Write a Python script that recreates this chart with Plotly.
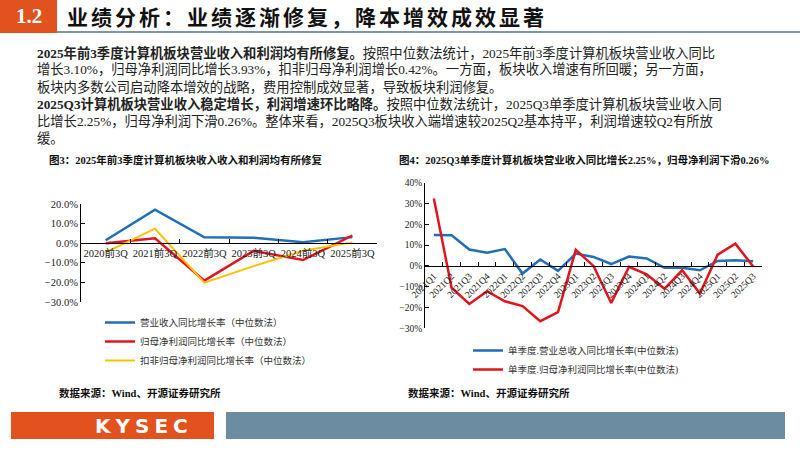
import plotly.graph_objects as go

# 图3：前3季度同比（中位数法，%）
years_3q = ["2020前3Q", "2021前3Q", "2022前3Q", "2023前3Q", "2024前3Q", "2025前3Q"]
rev_yoy = [1.5, 17.1, 3.0, 2.8, 0.5, 3.10]
np_yoy = [0.0, 2.5, -19.1, -3.9, -8.6, 3.93]
np_ded_yoy = [-4.7, 7.4, -20.1, -11.7, -3.9, 0.42]

# 图4：单季度同比（中位数法，%）
quarters = ["2021Q1", "2021Q2", "2021Q3", "2021Q4",
            "2022Q1", "2022Q2", "2022Q3", "2022Q4",
            "2023Q1", "2023Q2", "2023Q3", "2023Q4",
            "2024Q1", "2024Q2", "2024Q3", "2024Q4",
            "2025Q1", "2025Q2", "2025Q3"]
q_rev_yoy = [14.9, 14.7, 7.9, 6.3, 8.1, -3.7, 3.1, -2.4, 5.9, 4.3, 0.9, 4.5,
             3.6, -0.9, -0.9, -2.1, 2.4, 2.7, 2.25]
q_np_yoy = [32.4, -10.5, -18.3, -12.2, -17.0, -19.3, -26.6, -22.2, 7.7, 0.0, -17.8, -0.5,
            -4.0, -11.0, -2.1, -13.3, 5.4, 10.7, -0.26]

W, H = 800, 450
SERIF = "Liberation Serif, Noto Sans CJK SC"
BLUE = "#1f6fb8"
RED = "#e3141d"
GOLD = "#ffc000"
ORANGE = "#e2521f"
STEEL = "#6b8ca1"


def py(pix):
    # pixel row -> paper y
    return 1 - pix / H


def px(pix):
    return pix / W


fig = go.Figure()

# left chart
fig.add_trace(go.Scatter(x=years_3q, y=rev_yoy, mode="lines", line=dict(color=BLUE, width=2.5),
                         name="营业收入同比增长率（中位数法）", xaxis="x", yaxis="y", legend="legend"))
fig.add_trace(go.Scatter(x=years_3q, y=np_yoy, mode="lines", line=dict(color=RED, width=2.5),
                         name="归母净利润同比增长率（中位数法）", xaxis="x", yaxis="y", legend="legend"))
fig.add_trace(go.Scatter(x=years_3q, y=np_ded_yoy, mode="lines", line=dict(color=GOLD, width=2),
                         name="扣非归母净利润同比增长率（中位数法）", xaxis="x", yaxis="y", legend="legend"))

# right chart
fig.add_trace(go.Scatter(x=quarters, y=q_rev_yoy, mode="lines", line=dict(color=BLUE, width=2.5),
                         name="单季度.营业总收入同比增长率(中位数法)", xaxis="x2", yaxis="y2", legend="legend2"))
fig.add_trace(go.Scatter(x=quarters, y=q_np_yoy, mode="lines", line=dict(color=RED, width=2.5),
                         name="单季度.归母净利润同比增长率(中位数法)", xaxis="x2", yaxis="y2", legend="legend2"))

axis_common = dict(showgrid=False, zeroline=False, showline=True, linecolor="black", linewidth=1,
                   ticks="inside", ticklen=4, tickcolor="black", automargin=False)

left_y = (-30, 20)
right_y = (-30, 40)
left_dom = (py(302), py(204))
right_dom = (py(328.3), py(182.7))

fig.update_layout(
    width=W, height=H,
    margin=dict(l=0, r=0, t=0, b=0, autoexpand=False),
    paper_bgcolor="white", plot_bgcolor="white",
    font=dict(family=SERIF, color="#222"),
    xaxis=dict(axis_common, domain=[px(81), px(377)], anchor="free",
               position=left_dom[0] + (0 - left_y[0]) / (left_y[1] - left_y[0]) * (left_dom[1] - left_dom[0]),
               type="category", range=[-0.5, len(years_3q) - 0.5], tickson="boundaries",
               tickangle=0, tickfont=dict(size=10.5, family=SERIF, color="#222")),
    yaxis=dict(axis_common, domain=list(left_dom), anchor="x", range=list(left_y), dtick=10,
               tickformat=".1f", ticksuffix="%", tickfont=dict(size=10.5, family=SERIF, color="#222")),
    xaxis2=dict(axis_common, domain=[px(425), px(762)], anchor="free",
                position=right_dom[0] + (0 - right_y[0]) / (right_y[1] - right_y[0]) * (right_dom[1] - right_dom[0]),
                type="category", range=[-0.5, len(quarters) - 0.5], tickson="boundaries",
                tickangle=-45, tickfont=dict(size=9.5, family=SERIF, color="#222")),
    yaxis2=dict(axis_common, domain=list(right_dom), anchor="x2", range=list(right_y), dtick=10,
                tickformat="d", ticksuffix="%", tickfont=dict(size=9.5, family=SERIF, color="#222")),
    legend=dict(x=px(100), y=py(308), xanchor="left", yanchor="top", bgcolor="rgba(0,0,0,0)",
                font=dict(size=9.5, family=SERIF, color="#333"), tracegroupgap=0),
    legend2=dict(x=px(468), y=py(336), xanchor="left", yanchor="top", bgcolor="rgba(0,0,0,0)",
                 font=dict(size=9.5, family=SERIF, color="#333"), tracegroupgap=0),
    showlegend=True,
)

shapes = [
    dict(type="rect", xref="paper", yref="paper", x0=0, x1=px(57), y0=py(33), y1=1,
         fillcolor=ORANGE, line=dict(width=0)),
    dict(type="line", xref="paper", yref="paper", x0=px(57), x1=1, y0=py(32), y1=py(32),
         line=dict(color="#7d95a4", width=2)),
    dict(type="rect", xref="paper", yref="paper", x0=px(11), x1=px(214), y0=py(439), y1=py(412),
         fillcolor=ORANGE, line=dict(width=0)),
    dict(type="rect", xref="paper", yref="paper", x0=px(226), x1=px(785), y0=py(439), y1=py(412),
         fillcolor=STEEL, line=dict(width=0)),
]
fig.update_layout(shapes=shapes)

body = [
    "<b>2025年前3季度计算机板块营业收入和利润均有所修复。</b>按照中位数法统计，2025年前3季度计算机板块营业收入同比",
    "增长3.10%，归母净利润同比增长3.93%，扣非归母净利润增长0.42%。一方面，板块收入增速有所回暖；另一方面，",
    "板块内多数公司启动降本增效的战略，费用控制成效显著，导致板块利润修复。",
    "<b>2025Q3计算机板块营业收入稳定增长，利润增速环比略降。</b>按照中位数法统计，2025Q3单季度计算机板块营业收入同",
    "比增长2.25%，归母净利润下滑0.26%。整体来看，2025Q3板块收入端增速较2025Q2基本持平，利润增速较Q2有所放",
    "缓。",
]

ann = [
    dict(text="<b>1.2</b>", x=px(29), y=py(16), xanchor="center", yanchor="middle",
         font=dict(size=21, color="white", family=SERIF)),
    dict(text="<b><span style='letter-spacing:3px'>业绩分析：业绩逐渐修复，降本增效成效显著</span></b>",
         x=px(65), y=py(18), xanchor="left", yanchor="middle",
         font=dict(size=21, color="#111", family=SERIF)),
    dict(text="<b>图3：2025年前3季度计算机板块收入收入和利润均有所修复</b>", x=px(47), y=py(160),
         xanchor="left", yanchor="middle", font=dict(size=10.5, color="#111", family=SERIF)),
    dict(text="<b>图4：2025Q3单季度计算机板块营业收入同比增长2.25%，归母净利润下滑0.26%</b>", x=px(397), y=py(160),
         xanchor="left", yanchor="middle", font=dict(size=10.5, color="#111", family=SERIF)),
    dict(text="<b>数据来源：Wind、开源证券研究所</b>", x=px(57), y=py(393), xanchor="left", yanchor="middle",
         font=dict(size=10.5, color="#111", family=SERIF)),
    dict(text="<b>数据来源：Wind、开源证券研究所</b>", x=px(406), y=py(393), xanchor="left", yanchor="middle",
         font=dict(size=10.5, color="#111", family=SERIF)),
    dict(text="<b><span style='letter-spacing:5px'>KYSEC</span></b>", x=px(144), y=py(426),
         xanchor="center", yanchor="middle",
         font=dict(size=20, color="white", family="DejaVu Sans")),
]
line_rows = [53, 70, 87, 104, 121, 138]
for txt, row in zip(body, line_rows):
    ann.append(dict(text=txt, x=px(35), y=py(row), xanchor="left", yanchor="middle",
                    font=dict(size=13.3, color="#222", family=SERIF)))
for a in ann:
    a.update(xref="paper", yref="paper", showarrow=False)
fig.update_layout(annotations=ann)

# the page body has a default 8px margin; drop it so the figure fills the window
fig.write_html("out.html", config={"displayModeBar": False},
               post_script="document.body.style.margin='0';")
